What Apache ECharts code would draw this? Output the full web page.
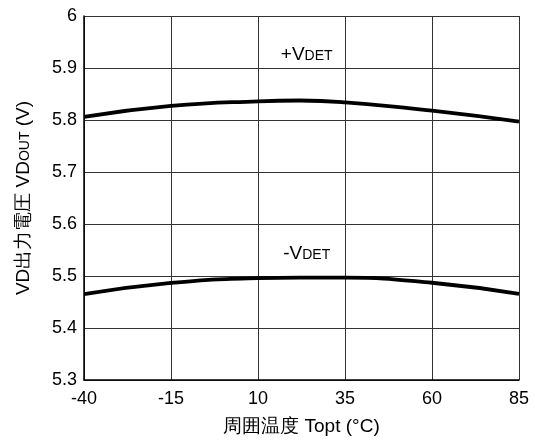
<!DOCTYPE html>
<html>
<head>
<meta charset="utf-8">
<script src="https://cdn.jsdelivr.net/npm/echarts@6/dist/echarts.min.js"></script>
<style>
  html, body { margin: 0; padding: 0; background: #fff; overflow: hidden; }
  #chart { width: 535px; height: 441px; }
</style>
</head>
<body>
<div id="chart"></div>
<script>
// Ambient temperature (°C) sample points
var temps = [-40, -15, 10, 22, 35, 60, 85];
// Detector output voltage, rising threshold (+VDET)
var vdetPlus = [5.806, 5.827, 5.836, 5.8375, 5.834, 5.818, 5.797];
// Detector output voltage, falling threshold (-VDET)
var vdetMinus = [5.465, 5.4867, 5.496, 5.497, 5.4967, 5.487, 5.4655];
// Axis ticks
var xTicks = [-40, -15, 10, 35, 60, 85];
var yTicks = [5.3, 5.4, 5.5, 5.6, 5.7, 5.8, 5.9, 6];
// Curve label anchors [temperature, voltage]
var plusLabelAt = [24, 5.926];
var minusLabelAt = [24, 5.543];

var FONT = '"Liberation Sans", Arial, sans-serif';

function pairs(xs, ys) {
  return xs.map(function (x, i) { return [x, ys[i]]; });
}

function curve(name, values, anchor, sign) {
  return {
    name: name,
    type: 'line',
    smooth: 0.5,
    symbol: 'none',
    data: pairs(temps, values),
    lineStyle: { color: '#000', width: 3.8 },
    z: 5,
    markPoint: {
      symbol: 'circle',
      symbolSize: 0,
      silent: true,
      data: [{ coord: anchor }],
      label: {
        show: true,
        position: 'inside',
        formatter: '{b|' + sign + 'V}{s|DET}',
        rich: {
          b: { fontFamily: FONT, fontSize: 19, color: '#000' },
          s: { fontFamily: FONT, fontSize: 14, color: '#000', padding: [3, 0, 0, 0] }
        }
      }
    }
  };
}

var chart = echarts.init(document.getElementById('chart'), null, { renderer: 'canvas' });
chart.setOption({
  animation: false,
  backgroundColor: '#fff',
  grid: { left: 84, right: 16, top: 16, bottom: 59, containLabel: false },
  xAxis: {
    type: 'value',
    min: -40,
    max: 85,
    interval: 25,
    name: '周囲温度 Topt (°C)',
    nameLocation: 'middle',
    nameGap: 37,
    nameTextStyle: { fontFamily: FONT, fontSize: 19, color: '#000' },
    axisLine: { show: true, onZero: false, lineStyle: { color: '#000', width: 1.5 } },
    axisTick: { show: false },
    axisLabel: {
      fontFamily: FONT, fontSize: 18, color: '#000', margin: 10,
      customValues: xTicks,
      formatter: function (v) { return String(v); }
    },
    splitLine: { show: true, lineStyle: { color: '#333', width: 1 } }
  },
  yAxis: {
    type: 'value',
    min: 5.3,
    max: 6,
    interval: 0.1,
    name: '{n|VD出力電圧 VD}{s|OUT}{n| (V)}',
    nameLocation: 'middle',
    nameGap: 51,
    nameRotate: 90,
    nameTextStyle: {
      rich: {
        n: { fontFamily: FONT, fontSize: 19, color: '#000' },
        s: { fontFamily: FONT, fontSize: 14, color: '#000', padding: [3, 0, 0, 0] }
      }
    },
    axisLine: { show: true, onZero: false, lineStyle: { color: '#000', width: 1.5 } },
    axisTick: { show: false },
    axisLabel: {
      fontFamily: FONT, fontSize: 18, color: '#000', margin: 7,
      customValues: yTicks,
      formatter: function (v) {
        var r = Math.round(v * 10) / 10;
        return r === 6 ? '6' : r.toFixed(1);
      }
    },
    splitLine: { show: true, lineStyle: { color: '#333', width: 1 } }
  },
  series: [
    curve('+VDET', vdetPlus, plusLabelAt, '+'),
    curve('-VDET', vdetMinus, minusLabelAt, '-')
  ]
});
</script>
</body>
</html>
